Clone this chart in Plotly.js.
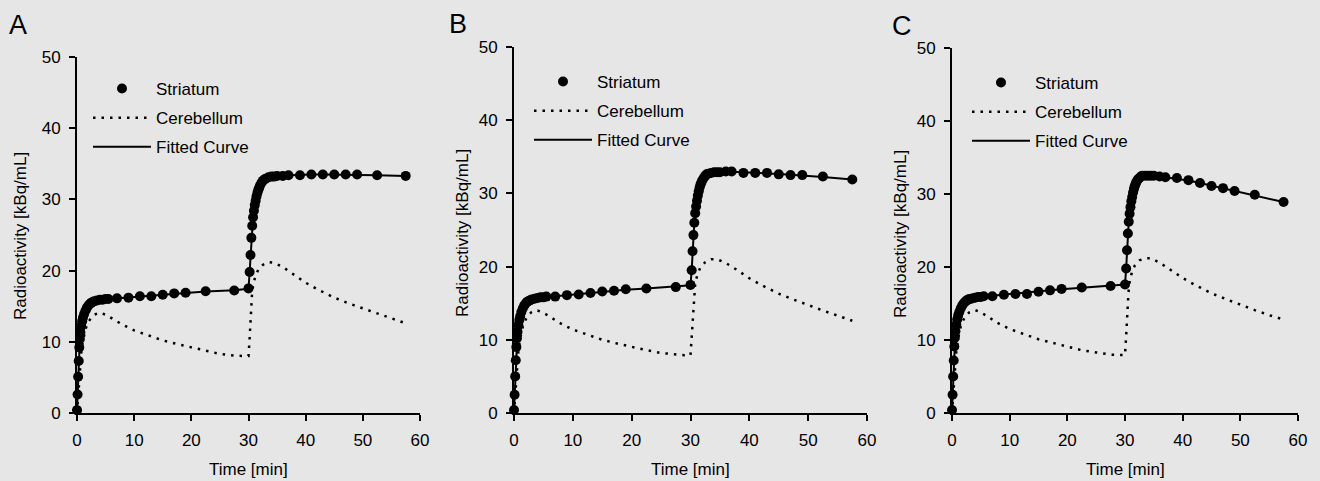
<!DOCTYPE html>
<html>
<head>
<meta charset="utf-8">
<script src="https://cdn.plot.ly/plotly-3.0.1.min.js"></script>
<style>
  html, body { margin: 0; padding: 0; background: #e6e6e6; }
  #chart { width: 1320px; height: 481px; }
</style>
</head>
<body>
<div id="chart"></div>
<script>
// ---------------- data ----------------
const panelLabels = ["A", "B", "C"];
const seriesNames = ["Striatum", "Cerebellum", "Fitted Curve"];
const xTitle = "Time [min]";
const yTitle = "Radioactivity [kBq/mL]";
const xTickVals = [0, 10, 20, 30, 40, 50, 60];
const yTickVals = [0, 10, 20, 30, 40, 50];

// striatum frame mid-times (min)
const striatumTime = [0, 0.1, 0.2, 0.3, 0.4, 0.5, 0.6, 0.75, 0.9, 1.05, 1.25, 1.5, 1.75, 2, 2.25, 2.5, 2.75, 3, 3.5, 4, 4.5, 5, 5.5,
  7, 9, 11, 13, 15, 17, 19, 22.5, 27.5, 30,
  30.2, 30.35, 30.5, 30.65, 30.8, 30.95, 31.1, 31.25, 31.4, 31.55, 31.7, 31.85, 32, 32.25, 32.5, 32.75, 33, 33.5, 34, 34.5, 35, 36, 37,
  39, 41, 43, 45, 47, 49, 52.5, 57.5];

const striatumA = [0.4, 2.6, 5.1, 7.3, 9.2, 10.4, 11.3, 12.2, 12.9, 13.4, 13.9, 14.4, 14.8, 15.1, 15.3, 15.5, 15.6, 15.7, 15.8, 15.9, 15.9, 16.0, 16.0,
  16.1, 16.2, 16.4, 16.4, 16.6, 16.8, 16.9, 17.1, 17.2, 17.5,
  19.8, 22.2, 24.6, 26.3, 27.5, 28.4, 29.2, 29.8, 30.4, 30.9, 31.3, 31.6, 31.9, 32.3, 32.6, 32.8, 32.9, 33.1, 33.2, 33.2, 33.3, 33.3, 33.4,
  33.4, 33.5, 33.5, 33.5, 33.5, 33.5, 33.4, 33.3];
const striatumB = [0.4, 2.5, 5.0, 7.2, 9.0, 10.2, 11.1, 12.0, 12.7, 13.2, 13.8, 14.3, 14.7, 15.0, 15.2, 15.3, 15.4, 15.5, 15.6, 15.7, 15.8, 15.8, 15.9,
  15.9, 16.1, 16.2, 16.4, 16.6, 16.7, 16.9, 17.0, 17.2, 17.5,
  19.5, 22.1, 24.3, 26.0, 27.3, 28.2, 29.0, 29.7, 30.3, 30.8, 31.2, 31.5, 31.8, 32.1, 32.4, 32.6, 32.7, 32.8, 32.9, 32.9, 32.9, 33.0, 33.0,
  32.8, 32.8, 32.8, 32.6, 32.5, 32.5, 32.3, 31.9];
const striatumC = [0.4, 2.5, 5.0, 7.2, 9.1, 10.3, 11.2, 12.1, 12.8, 13.3, 13.8, 14.3, 14.7, 15.0, 15.2, 15.4, 15.5, 15.6, 15.7, 15.8, 15.9, 15.9, 16.0,
  16.0, 16.2, 16.3, 16.3, 16.6, 16.8, 17.0, 17.2, 17.4, 17.6,
  19.8, 22.3, 24.6, 26.2, 27.3, 28.2, 29.0, 29.6, 30.2, 30.7, 31.1, 31.4, 31.7, 32.0, 32.2, 32.4, 32.5, 32.5, 32.5, 32.5, 32.5, 32.4, 32.3,
  32.2, 31.9, 31.5, 31.1, 30.8, 30.4, 29.9, 28.9];

// fitted curves (same time grid)
const fitTime = striatumTime;
const fittedA = [0.3, 2.6, 5.1, 7.3, 9.1, 10.4, 11.3, 12.2, 12.9, 13.4, 13.9, 14.4, 14.8, 15.1, 15.3, 15.5, 15.6, 15.7, 15.8, 15.9, 15.9, 16.0, 16.0,
  16.1, 16.2, 16.35, 16.45, 16.6, 16.75, 16.9, 17.05, 17.25, 17.45,
  19.8, 22.2, 24.6, 26.3, 27.5, 28.4, 29.2, 29.8, 30.4, 30.9, 31.3, 31.6, 31.9, 32.3, 32.6, 32.8, 32.9, 33.1, 33.2, 33.25, 33.3, 33.35, 33.4,
  33.45, 33.5, 33.5, 33.5, 33.5, 33.45, 33.4, 33.3];
const fittedB = [0.3, 2.5, 5.0, 7.2, 9.0, 10.2, 11.1, 12.0, 12.7, 13.2, 13.8, 14.3, 14.7, 15.0, 15.2, 15.3, 15.4, 15.5, 15.6, 15.7, 15.8, 15.85, 15.9,
  15.95, 16.1, 16.25, 16.4, 16.55, 16.7, 16.85, 17.0, 17.25, 17.45,
  19.5, 22.1, 24.3, 26.0, 27.3, 28.2, 29.0, 29.7, 30.3, 30.8, 31.2, 31.5, 31.8, 32.1, 32.4, 32.6, 32.7, 32.8, 32.85, 32.9, 32.9, 32.95, 32.95,
  32.9, 32.85, 32.75, 32.65, 32.55, 32.45, 32.25, 31.9];
const fittedC = [0.3, 2.5, 5.0, 7.2, 9.1, 10.3, 11.2, 12.1, 12.8, 13.3, 13.8, 14.3, 14.7, 15.0, 15.2, 15.4, 15.5, 15.6, 15.7, 15.8, 15.85, 15.9, 15.95,
  16.05, 16.2, 16.3, 16.45, 16.6, 16.8, 16.95, 17.15, 17.4, 17.6,
  19.8, 22.3, 24.6, 26.2, 27.3, 28.2, 29.0, 29.6, 30.2, 30.7, 31.1, 31.4, 31.7, 32.0, 32.2, 32.35, 32.45, 32.5, 32.5, 32.5, 32.5, 32.4, 32.3,
  32.1, 31.85, 31.5, 31.15, 30.8, 30.4, 29.85, 28.9];

// cerebellum (reference region)
const cerebTime = [0, 0.25, 0.5, 0.75, 1, 1.5, 2, 2.5, 3, 3.5, 4, 5, 6, 8, 10, 12, 15, 18, 20, 22.5, 25, 27.5, 29, 30,
  30.2, 30.4, 30.6, 30.8, 31.2, 31.7, 32.5, 33.5, 34.5, 36, 38, 40, 42, 45, 47.5, 50, 52.5, 55, 57.5];
const cerebA = [0, 3, 6, 8.5, 10, 11.8, 12.8, 13.4, 13.8, 14.0, 14.1, 13.8, 13.3, 12.4, 11.6, 11.0, 10.2, 9.6, 9.2, 8.7, 8.3, 8.05, 8.0, 8.0,
  10.5, 14.0, 16.5, 17.9, 19.2, 20.1, 20.8, 21.2, 21.1, 20.5, 19.4, 18.3, 17.4, 16.2, 15.4, 14.7, 14.0, 13.3, 12.6];
const cerebB = [0, 3, 6, 8.5, 10, 11.8, 12.8, 13.4, 13.8, 14.0, 14.0, 13.7, 13.2, 12.2, 11.4, 10.8, 10.0, 9.4, 9.0, 8.6, 8.2, 7.95, 7.9, 7.9,
  10.3, 13.8, 16.3, 17.7, 19.0, 19.9, 20.6, 21.0, 21.0, 20.5, 19.5, 18.4, 17.5, 16.3, 15.5, 14.7, 14.0, 13.3, 12.6];
const cerebC = [0, 3, 6, 8.5, 10, 11.8, 12.8, 13.4, 13.8, 14.0, 14.1, 13.8, 13.3, 12.3, 11.5, 10.9, 10.1, 9.5, 9.1, 8.6, 8.3, 8.0, 7.95, 7.95,
  10.5, 14.0, 16.5, 17.9, 19.3, 20.2, 20.9, 21.2, 21.2, 20.6, 19.5, 18.5, 17.6, 16.4, 15.6, 14.8, 14.1, 13.4, 12.8];

const striatumSets = [striatumA, striatumB, striatumC];
const fittedSets = [fittedA, fittedB, fittedC];
const cerebSets = [cerebA, cerebB, cerebC];

// ---------------- layout helpers ----------------
const W = 1320, H = 481;
const FONT = "Liberation Sans, Arial, Helvetica, sans-serif";
// plot boxes in pixels: [left, right, top(y=50), bottom(y=0)]
const boxes = [
  [77, 420, 57, 413],
  [514, 867, 47, 413],
  [952, 1298, 48, 413]
];
const legendPos = [[88, 71], [529, 64], [967, 65]];
const yTitlePos = [[20, 236], [462, 233], [900, 234]];
const letterPos = [[18, 25], [458, 24], [902, 26]];

const traces = [];
const layout = {
  width: W, height: H,
  margin: {l: 0, r: 0, t: 0, b: 0},
  paper_bgcolor: "#e6e6e6",
  plot_bgcolor: "rgba(0,0,0,0)",
  font: {family: FONT, size: 17, color: "#000"},
  showlegend: true,
  annotations: []
};

for (let p = 0; p < 3; p++) {
  const sfx = p === 0 ? "" : String(p + 1);
  const xa = "x" + sfx, ya = "y" + sfx;
  const lg = "legend" + sfx;
  const [L, R, T, B] = boxes[p];

  traces.push({
    x: striatumTime, y: striatumSets[p], xaxis: xa, yaxis: ya,
    type: "scatter", mode: "markers", name: seriesNames[0],
    marker: {color: "#000", size: 10, symbol: "circle"},
    cliponaxis: false, legend: lg, legendgroup: "s" + p, legendrank: 1
  });
  traces.push({
    x: cerebTime, y: cerebSets[p], xaxis: xa, yaxis: ya,
    type: "scatter", mode: "lines", name: seriesNames[1],
    line: {color: "#000", width: 2.5, dash: "2.5px,6px"},
    cliponaxis: false, legend: lg, legendgroup: "c" + p, legendrank: 2
  });
  traces.push({
    x: fitTime, y: fittedSets[p], xaxis: xa, yaxis: ya,
    type: "scatter", mode: "lines", name: seriesNames[2],
    line: {color: "#000", width: 2},
    cliponaxis: false, legend: lg, legendgroup: "f" + p, legendrank: 3
  });

  const axCommon = {
    showline: true, linecolor: "#000", linewidth: 2,
    ticks: "outside", ticklen: 6, tickwidth: 2, tickcolor: "#000",
    showgrid: false, zeroline: false,
    tickfont: {family: FONT, size: 17, color: "#000"},
    fixedrange: true
  };
  layout["xaxis" + sfx] = Object.assign({}, axCommon, {
    domain: [L / W, R / W], range: [0, 60], tickvals: xTickVals,
    anchor: ya, ticklabelstandoff: 5
  });
  layout["yaxis" + sfx] = Object.assign({}, axCommon, {
    domain: [1 - B / H, 1 - T / H], range: [0, 50], tickvals: yTickVals,
    anchor: xa, ticklabelstandoff: 5
  });
  layout[lg] = {
    x: legendPos[p][0] / W, y: 1 - legendPos[p][1] / H,
    xanchor: "left", yanchor: "top",
    bgcolor: "rgba(0,0,0,0)", borderwidth: 0,
    font: {family: FONT, size: 17, color: "#000"},
    itemwidth: 58, traceorder: "grouped", tracegroupgap: 4,
    itemclick: false, itemdoubleclick: false
  };

  layout.annotations.push({
    xref: "paper", yref: "paper", x: ((L + R) / 2) / W, y: 1 - 469 / H,
    xanchor: "center", yanchor: "middle", showarrow: false,
    text: xTitle, font: {family: FONT, size: 17, color: "#000"}
  });
  layout.annotations.push({
    xref: "paper", yref: "paper", x: yTitlePos[p][0] / W, y: 1 - yTitlePos[p][1] / H,
    xanchor: "center", yanchor: "middle", showarrow: false, textangle: -90,
    text: yTitle, font: {family: FONT, size: 17, color: "#000"}
  });
  layout.annotations.push({
    xref: "paper", yref: "paper", x: letterPos[p][0] / W, y: 1 - letterPos[p][1] / H,
    xanchor: "center", yanchor: "middle", showarrow: false,
    text: panelLabels[p], font: {family: FONT, size: 27, color: "#000"}
  });
}

Plotly.newPlot("chart", traces, layout, {displayModeBar: false, staticPlot: true});
</script>
</body>
</html>
